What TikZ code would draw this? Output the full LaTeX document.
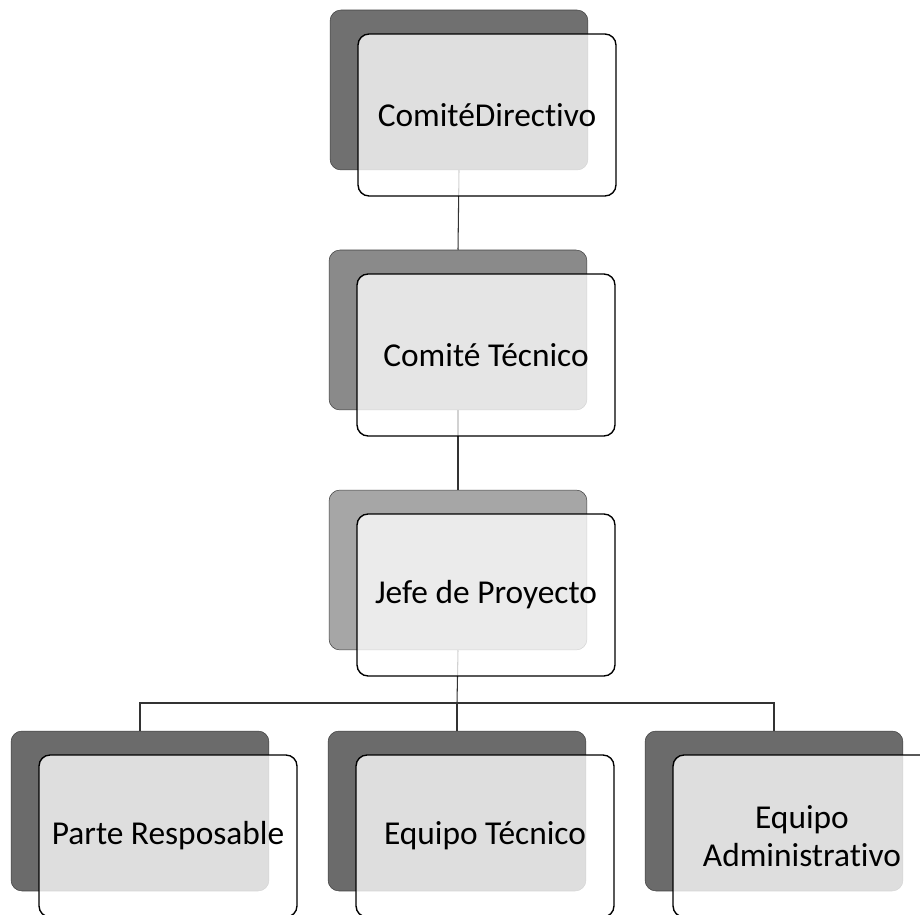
\documentclass[tikz,border=0pt]{standalone}
\usepackage{fontspec}
\setmainfont[Ligatures=NoCommon]{Carlito}
\usetikzlibrary{calc}
\tikzset{
  backbox/.style={draw=black!75, line width=0.3pt, rounded corners=0.22cm, minimum width=5.16cm, minimum height=3.2cm, inner sep=0pt},
  frontbox/.style={draw=black, line width=0.8pt, fill=white, fill opacity=0.78, text opacity=1, rounded corners=0.22cm, minimum width=5.16cm, minimum height=3.24cm, inner sep=0pt, font=\fontsize{19}{22}\selectfont, align=center},
  link/.style={draw=black!80, line width=0.6pt}
}
\begin{document}
\begin{tikzpicture}[x=0.02cm, y=-0.02cm]
		%%%%% START %%%%%
		\useasboundingbox (0,0) rectangle (920,915);
		
		% sombras
		\node[backbox, fill=black!56] (dirB) at (459, 90) {};
		\node[backbox, fill=black!46] (tecB) at (458, 330) {};
		\node[backbox, fill=black!35] (jefeB) at (458, 570) {};
		\node[backbox, fill=black!58] (parteB) at (140, 811) {};
		\node[backbox, fill=black!58] (equipoB) at (457, 811) {};
		\node[backbox, fill=black!58] (adminB) at (774, 811) {};
		
		% lineas
		\coordinate (bus) at (457, 703);
		\draw[link] (dirB.south) -- (tecB.north);
		\draw[link] (tecB.south) -- (jefeB.north);
		\draw[link] (jefeB.south) -- (bus);
		\draw[link] (parteB.north) |- (bus) -| (adminB.north);
		\draw[link] (bus) -- (equipoB.north);
		
		% cajas
		\node[frontbox] (dir) at ($(dirB)+(28,25)$) {Comit\'eDirect\kern0pt ivo};
		\node[frontbox] (tec) at ($(tecB)+(28,25)$) {Comit\'e T\'ecnico};
		\node[frontbox] (jefe) at ($(jefeB)+(28,25)$) {Jefe de Proyecto};
		\node[frontbox] (parte) at ($(parteB)+(28,25)$) {Parte Resposable};
		\node[frontbox] (equipo) at ($(equipoB)+(28,25)$) {Equipo T\'ecnico};
		\node[frontbox] (admin) at ($(adminB)+(28,25)$) {Equipo\\Administrat\kern0pt ivo};
		
		%%%%% END %%%%%
\end{tikzpicture}
\end{document}
